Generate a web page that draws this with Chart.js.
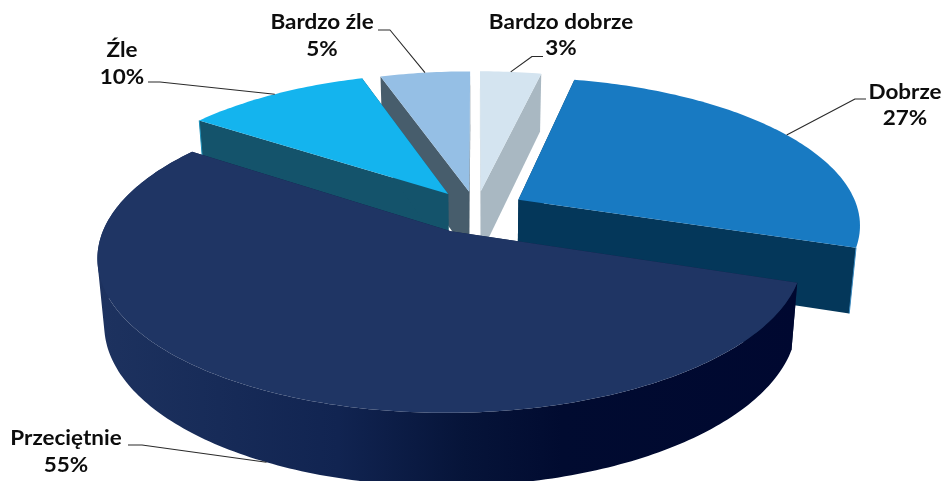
<!DOCTYPE html>
<html lang="pl"><head><meta charset="utf-8">
<style>html,body{margin:0;padding:0;background:#fff}canvas{display:block}</style>
<script src="https://cdn.jsdelivr.net/npm/chart.js@4"></script>
</head><body><canvas id="c" width="944" height="481"></canvas>
<script>
const categories = ['Bardzo dobrze','Dobrze','Przeciętnie','Źle','Bardzo źle'];
const shares = [3.4,26.8,54.5,10.3,5.0];
const percentLabels = ['3%','27%','55%','10%','5%'];
const topColors = ['#d4e4f0','#187ac2','#1f3564','#14b4ee','#95bfe5'];
const wallColors = ['#a9b8c2','#04375a','#0f2248','#14536b','#475d6c'];
const edgeColors = [null,'#3b8ac0',null,'#1c8fb8',null];
const explode = [177,197,218,190,177];
const paintOrder = [4,0,3,1,2];
// label text anchors and leader elbows (label furniture, not data marks)
const labelPos = [[561,22,48],[905,92,118],[66,438,465],[122,50,77],[322,22,49]];
const leaderElbows = [[[543,56.5],[532,56.5]],[[866,99],[855,99]],[[128,445],[142,445]],[[148,82],[160,82]],[[378,30],[390,30]]];

const TILT = 145/340, PERSP = 0.16;
function topPoint(arc, a){
  const R = arc.outerRadius, o = arc.options.offset/4, mid = (arc.startAngle+arc.endAngle)/2;
  const X = Math.cos(mid)*o + (a===null?0:Math.cos(a)*R);
  const Y = Math.sin(mid)*o + (a===null?0:Math.sin(a)*R);
  const w = 1 - PERSP*Y/R;
  return [arc.x + X/w, arc.y + TILT*Y/w];
}
function lowPoint(p, cx){
  return [cx + 0.982*(p[0]-cx), p[1] + 58 + 0.0457*(p[1]-77)];
}
function arcSamples(arc){
  const pts=[], n=Math.max(8,Math.ceil((arc.endAngle-arc.startAngle)*60));
  for(let k=0;k<=n;k++) pts.push(topPoint(arc, arc.startAngle+(arc.endAngle-arc.startAngle)*k/n));
  return pts;
}
function addPoly(ctx, pts){
  pts.forEach((p,i)=> i?ctx.lineTo(p[0],p[1]):ctx.moveTo(p[0],p[1]));
  ctx.closePath();
}
function poly(ctx, pts){ ctx.beginPath(); addPoly(ctx,pts); }
function signedArea(pts){
  let s=0;
  pts.forEach((p,i)=>{const q=pts[(i+1)%pts.length]; s+=p[0]*q[1]-q[0]*p[1];});
  return s;
}
const pie3d = {
  id:'pie3d',
  beforeDatasetDraw(chart,args){
    const ctx = chart.ctx, arcs = chart.getDatasetMeta(0).data;
    paintOrder.forEach(i=>{
      const arc = arcs[i], cx = arc.x;
      const apex = topPoint(arc,null), rim = arcSamples(arc);
      const low = rim.map(p=>lowPoint(p,cx));
      ctx.fillStyle = wallColors[i];
      [rim[0],rim[rim.length-1]].forEach((e,k)=>{
        poly(ctx,[apex,e,low[k?low.length-1:0],lowPoint(apex,cx)]); ctx.fill();
      });
      if(i===2){
        const g = ctx.createLinearGradient(100,0,800,0);
        g.addColorStop(0,'#1d325f'); g.addColorStop(0.34,'#112451');
        g.addColorStop(0.52,'#061439'); g.addColorStop(0.66,'#010b30'); g.addColorStop(1,'#000830');
        ctx.fillStyle = g;
        ctx.beginPath();
        for(let k=0;k<rim.length-1;k++){
          const quad=[rim[k],rim[k+1],low[k+1],low[k]];
          addPoly(ctx, signedArea(quad)<0 ? quad.slice().reverse() : quad);
        }
        ctx.fill();
      }
      if(edgeColors[i]){
        const k = i===1 ? rim.length-1 : 0;
        ctx.strokeStyle = edgeColors[i]; ctx.lineWidth = 1;
        ctx.beginPath(); ctx.moveTo(rim[k][0],rim[k][1]); ctx.lineTo(low[k][0],low[k][1]); ctx.stroke();
      }
      ctx.fillStyle = arc.options.backgroundColor;
      poly(ctx,[apex].concat(rim)); ctx.fill();
    });
    return false;
  },
  afterDatasetsDraw(chart){
    const ctx = chart.ctx, arcs = chart.getDatasetMeta(0).data;
    ctx.save();
    ctx.strokeStyle='#2a2a2a'; ctx.lineWidth=1.1; ctx.lineJoin='round';
    arcs.forEach((arc,i)=>{
      const mid=(arc.startAngle+arc.endAngle)/2;
      let end=topPoint(arc,mid);
      if(i===2) end=lowPoint(end,arc.x);
      const e=leaderElbows[i];
      ctx.beginPath(); ctx.moveTo(e[0][0],e[0][1]); ctx.lineTo(e[1][0],e[1][1]); ctx.lineTo(end[0],end[1]); ctx.stroke();
    });
    ctx.fillStyle='#0d0d0d'; ctx.font='bold 21px Lato'; ctx.textAlign='center'; ctx.textBaseline='middle';
    const put=(t,x,y)=>{ctx.save();ctx.translate(x,y);ctx.scale(1.07,1);ctx.fillText(t,0,0);ctx.restore();};
    categories.forEach((t,i)=>{
      const p=labelPos[i];
      put(t,p[0],p[1]); put(percentLabels[i],p[0],p[2]);
    });
    ctx.restore();
  }
};
new Chart(document.getElementById('c'),{
  type:'pie',
  data:{labels:categories,datasets:[{data:shares,backgroundColor:topColors,offset:explode,borderWidth:0,clip:false}]},
  options:{responsive:false,animation:false,radius:340,rotation:0,
    layout:{padding:{left:8,right:0,top:0,bottom:61}},
    plugins:{legend:{display:false},tooltip:{enabled:false},title:{display:false}}},
  plugins:[pie3d]
});
</script></body></html>
